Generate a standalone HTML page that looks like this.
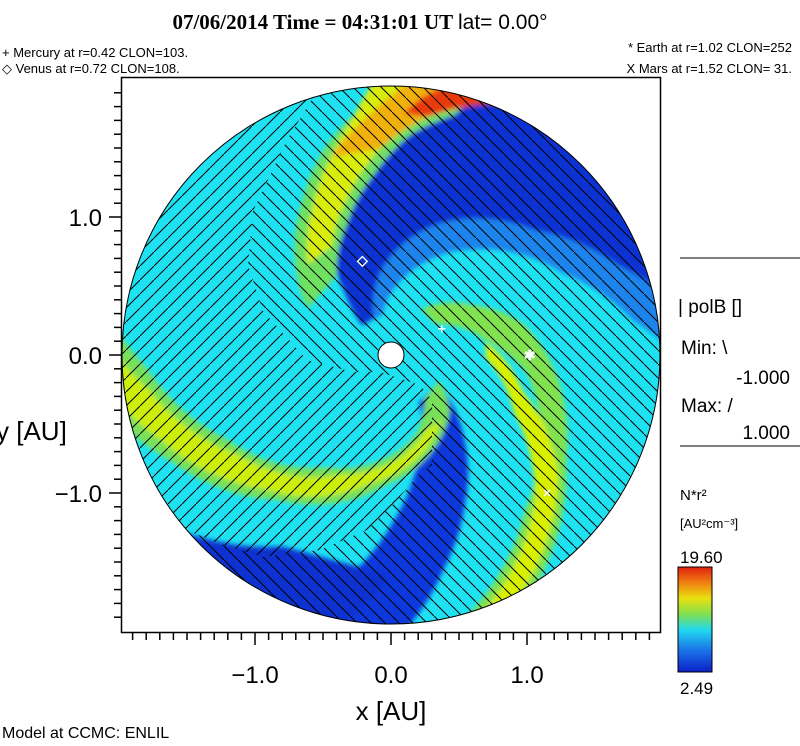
<!DOCTYPE html>
<html><head><meta charset="utf-8"><style>
body{margin:0;background:#fff;width:800px;height:746px;overflow:hidden;font-family:"Liberation Sans",sans-serif}
svg{display:block}
</style></head><body>
<svg id="chart" width="800" height="746" viewBox="0 0 800 746" xmlns="http://www.w3.org/2000/svg">
<defs>
<clipPath id="circ"><circle cx="391" cy="355" r="269"/></clipPath>
<clipPath id="polClip"><polygon id="polPoly"/></clipPath>
<mask id="polMask" maskUnits="userSpaceOnUse" x="0" y="0" width="800" height="746"><rect x="0" y="0" width="800" height="746" fill="#fff"/><polygon id="polPoly2" fill="#000"/></mask>
<pattern id="hatchA" width="14" height="14" patternUnits="userSpaceOnUse"><path d="M-1,-1 L15,15" stroke="#000" stroke-width="1"/></pattern>
<pattern id="hatchB" width="14" height="14" patternUnits="userSpaceOnUse"><path d="M-1,15 L15,-1" stroke="#000" stroke-width="1"/></pattern>
<filter id="blur" filterUnits="userSpaceOnUse" x="0" y="0" width="800" height="746"><feGaussianBlur stdDeviation="2.5"/></filter>
<linearGradient id="cbar" x1="0" y1="0" x2="0" y2="1">
<stop offset="0" stop-color="#e02010"/><stop offset="0.15" stop-color="#f08010"/><stop offset="0.3" stop-color="#e8e010"/><stop offset="0.45" stop-color="#80e050"/><stop offset="0.6" stop-color="#20d8f0"/><stop offset="0.8" stop-color="#1a70e8"/><stop offset="1" stop-color="#0a20c8"/>
</linearGradient>
</defs>
<text x="360" y="29" text-anchor="middle" font-family="Liberation Serif" font-weight="bold" font-size="21">07/06/2014 Time = 04:31:01 UT <tspan font-family="Liberation Sans" font-weight="normal">lat= 0.00°</tspan></text>
<g font-size="13">
<text x="2" y="57">+ Mercury at r=0.42 CLON=103.</text>
<text x="2" y="73">◇ Venus at r=0.72 CLON=108.</text>
<text x="792" y="52" text-anchor="end">* Earth at  r=1.02 CLON=252</text>
<text x="792" y="73" text-anchor="end">X Mars at r=1.52 CLON= 31.</text>
</g>
<rect x="121.5" y="77.5" width="539" height="555" fill="none" stroke="#000" stroke-width="1.5"/>
<g id="field" clip-path="url(#circ)">
<circle cx="391" cy="355" r="269" fill="#1ee2f2"/>
<g id="bands" filter="url(#blur)"></g>
<rect x="100" y="70" width="600" height="580" fill="url(#hatchA)" mask="url(#polMask)"/>
<rect x="100" y="70" width="600" height="580" fill="url(#hatchB)" clip-path="url(#polClip)"/>
</g>
<circle cx="391" cy="355" r="13" fill="#fff" stroke="#000"/>
<circle cx="391" cy="355" r="269" fill="none" stroke="#000" stroke-width="1"/>
<g id="planets"></g>
<g id="ticks" stroke="#000" stroke-width="1.5"></g>
<g id="ticklabels" font-size="24" fill="#000"></g>
<text x="391" y="720" text-anchor="middle" font-size="26">x [AU]</text>
<text x="-4" y="440" font-size="26">y [AU]</text>
<text x="2" y="738" font-size="16">Model at CCMC: ENLIL</text>
<g font-size="19">
<line x1="680" y1="258" x2="800" y2="258" stroke="#000"/>
<text x="678" y="313">| polB []</text>
<text x="681" y="354">Min: \</text>
<text x="790" y="384" text-anchor="end">-1.000</text>
<text x="681" y="412">Max: /</text>
<text x="790" y="439" text-anchor="end">1.000</text>
<line x1="680" y1="446" x2="800" y2="446" stroke="#000"/>
</g>
<g>
<text x="680" y="500" font-size="15">N*r²</text>
<text x="680" y="528" font-size="13">[AU²cm⁻³]</text>
<text x="680" y="563" font-size="17">19.60</text>
<rect x="678" y="567" width="34" height="105" fill="url(#cbar)" stroke="#000"/>
<text x="680" y="694" font-size="17">2.49</text>
</g>
</svg>
<script>
const cx=391, cy=355, pxPerAU=136;
const majorTicks=[-1.0,0.0,1.0];
const tickLabels=["−1.0","0.0","1.0"];
const planetNames=["mercury","venus","earth","mars"];
const planetR=[0.42,0.72,1.02,1.52];
const planetAng=[27,107,0,-41];
const planetSym=["+","◇","✱","×"];
// spiral density bands: radii (AU), centre angles (deg), half widths (deg), colours
const bandR=[
 [0.3,0.6,1.0,1.4,1.8,2.1],
 [0.3,0.6,1.0,1.4,1.8,2.1],
 [0.4,0.8,1.2,1.6,2.0],
 [1.6,1.85,2.1],
 [0.7,1.0,1.3,1.6,1.8,2.1],
 [0.9,1.2,1.5,1.75,2.1],
 [1.5,1.75,1.9,2.1],
 [1.75,1.88,2.0,2.1],
 [0.4,0.7,1.0,1.5,2.1],
 [0.7,1.0,1.5,2.1],
 [0.4,0.6,0.95,1.35,1.8,2.1],
 [0.6,0.95,1.35,1.8,2.1]];
const bandAng=[
 [118,100,78,55,38,30],
 [125,112,95,72,55,45],
 [-45,-62,-76,-88,-98],
 [-105,-115,-125],
 [138,122,108,96,86,80],
 [126,112,100,92,84],
 [100,88,82,76],
 [84,78,72,68],
 [45,20,3,-40,-72],
 [3,-20,-40,-72],
 [-40,-58,-107,-141,-166,-178],
 [-58,-107,-141,-166,-178]];
const bandHW=[
 [16,22,28,30,30,30],
 [10,14,24,32,34,34],
 [14,14,13,12,11],
 [15,18,20],
 [13,13,12,11,11,11],
 [7,7,7,7,7],
 [7,7,7,7],
 [3,5,6,6],
 [11,11,10,9,8],
 [5,5,5,4],
 [12,14,14,12,11,10],
 [6,7,7,6,5]];
const bandColor=["#1a84ec","#0c30d2","#0a38dc","#0a30d0","#70e060","#d8ec10","#f0b010","#e83a10","#80e250","#d8f000","#78e058","#ccee10"];
const NS="http://www.w3.org/2000/svg";
function X(v){return cx+v*pxPerAU}
function Y(v){return cy-v*138}
function pt(r,a){const t=a*Math.PI/180;return [X(r*Math.cos(t)),cy-r*138*Math.sin(t)];}
const bands=document.getElementById('bands');
bandR.forEach((rs,i)=>{
  const up=[],dn=[];
  for(let j=0;j<rs.length-1;j++){
    for(let s=0;s<8;s++){const f=s/8;
      const r=rs[j]+(rs[j+1]-rs[j])*f,a=bandAng[i][j]+(bandAng[i][j+1]-bandAng[i][j])*f,h=bandHW[i][j]+(bandHW[i][j+1]-bandHW[i][j])*f;
      up.push(pt(r,a+h));dn.push(pt(r,a-h));}
  }
  const l=rs.length-1,ra=bandAng[i][l],rh=bandHW[i][l];
  for(let s=0;s<=16;s++){up.push(pt(rs[l]*1.05,ra+rh-2*rh*s/16));}
  const p=document.createElementNS(NS,'polygon');
  p.setAttribute('points',up.concat(dn.reverse()).map(q=>q[0].toFixed(1)+','+q[1].toFixed(1)).join(' '));
  p.setAttribute('fill',bandColor[i]);
  
  
  bands.appendChild(p);
});
const sectorPts="100,78 325,78 287,140 253,211 248,265 263,311 307,360 353,372 380,372 420,385 432,400 432,465 420,473 397,500 367,530 320,550 263,557 217,543 180,527 100,500";
document.getElementById('polPoly').setAttribute('points',sectorPts);
document.getElementById('polPoly2').setAttribute('points',sectorPts);
const pg=document.getElementById('planets');
planetR.forEach((r,i)=>{
  const [x,y]=pt(r,planetAng[i]);
  const t=document.createElementNS(NS,'text');
  t.setAttribute('x',x);t.setAttribute('y',y+5);t.setAttribute('text-anchor','middle');
  t.setAttribute('font-size','14');t.setAttribute('fill','#fff');t.setAttribute('font-weight','bold');
  t.textContent=planetSym[i];
  
  
  pg.appendChild(t);
});
const tg=document.getElementById('ticks'),lg=document.getElementById('ticklabels');
function line(x1,y1,x2,y2){const l=document.createElementNS(NS,'line');l.setAttribute('x1',x1);l.setAttribute('y1',y1);l.setAttribute('x2',x2);l.setAttribute('y2',y2);tg.appendChild(l);}
for(let k=-19;k<=19;k++){const v=k/10,x=X(v);if(x<122||x>660)continue;const maj=k%10==0;line(x,633,x,maj?645:640);}
for(let k=-19;k<=19;k++){const v=k/10,y=Y(v);if(y<78||y>632)continue;const maj=k%10==0;line(121,y,maj?109:114,y);}
majorTicks.forEach((v,i)=>{
  const t=document.createElementNS(NS,'text');t.setAttribute('x',X(v));t.setAttribute('y',683);t.setAttribute('text-anchor','middle');t.textContent=tickLabels[i];
  
  
  lg.appendChild(t);
  const u=document.createElementNS(NS,'text');u.setAttribute('x',102);u.setAttribute('y',Y(v)+9);u.setAttribute('text-anchor','end');u.textContent=tickLabels[i];
  
  
  lg.appendChild(u);
});
</script>
</body></html>
